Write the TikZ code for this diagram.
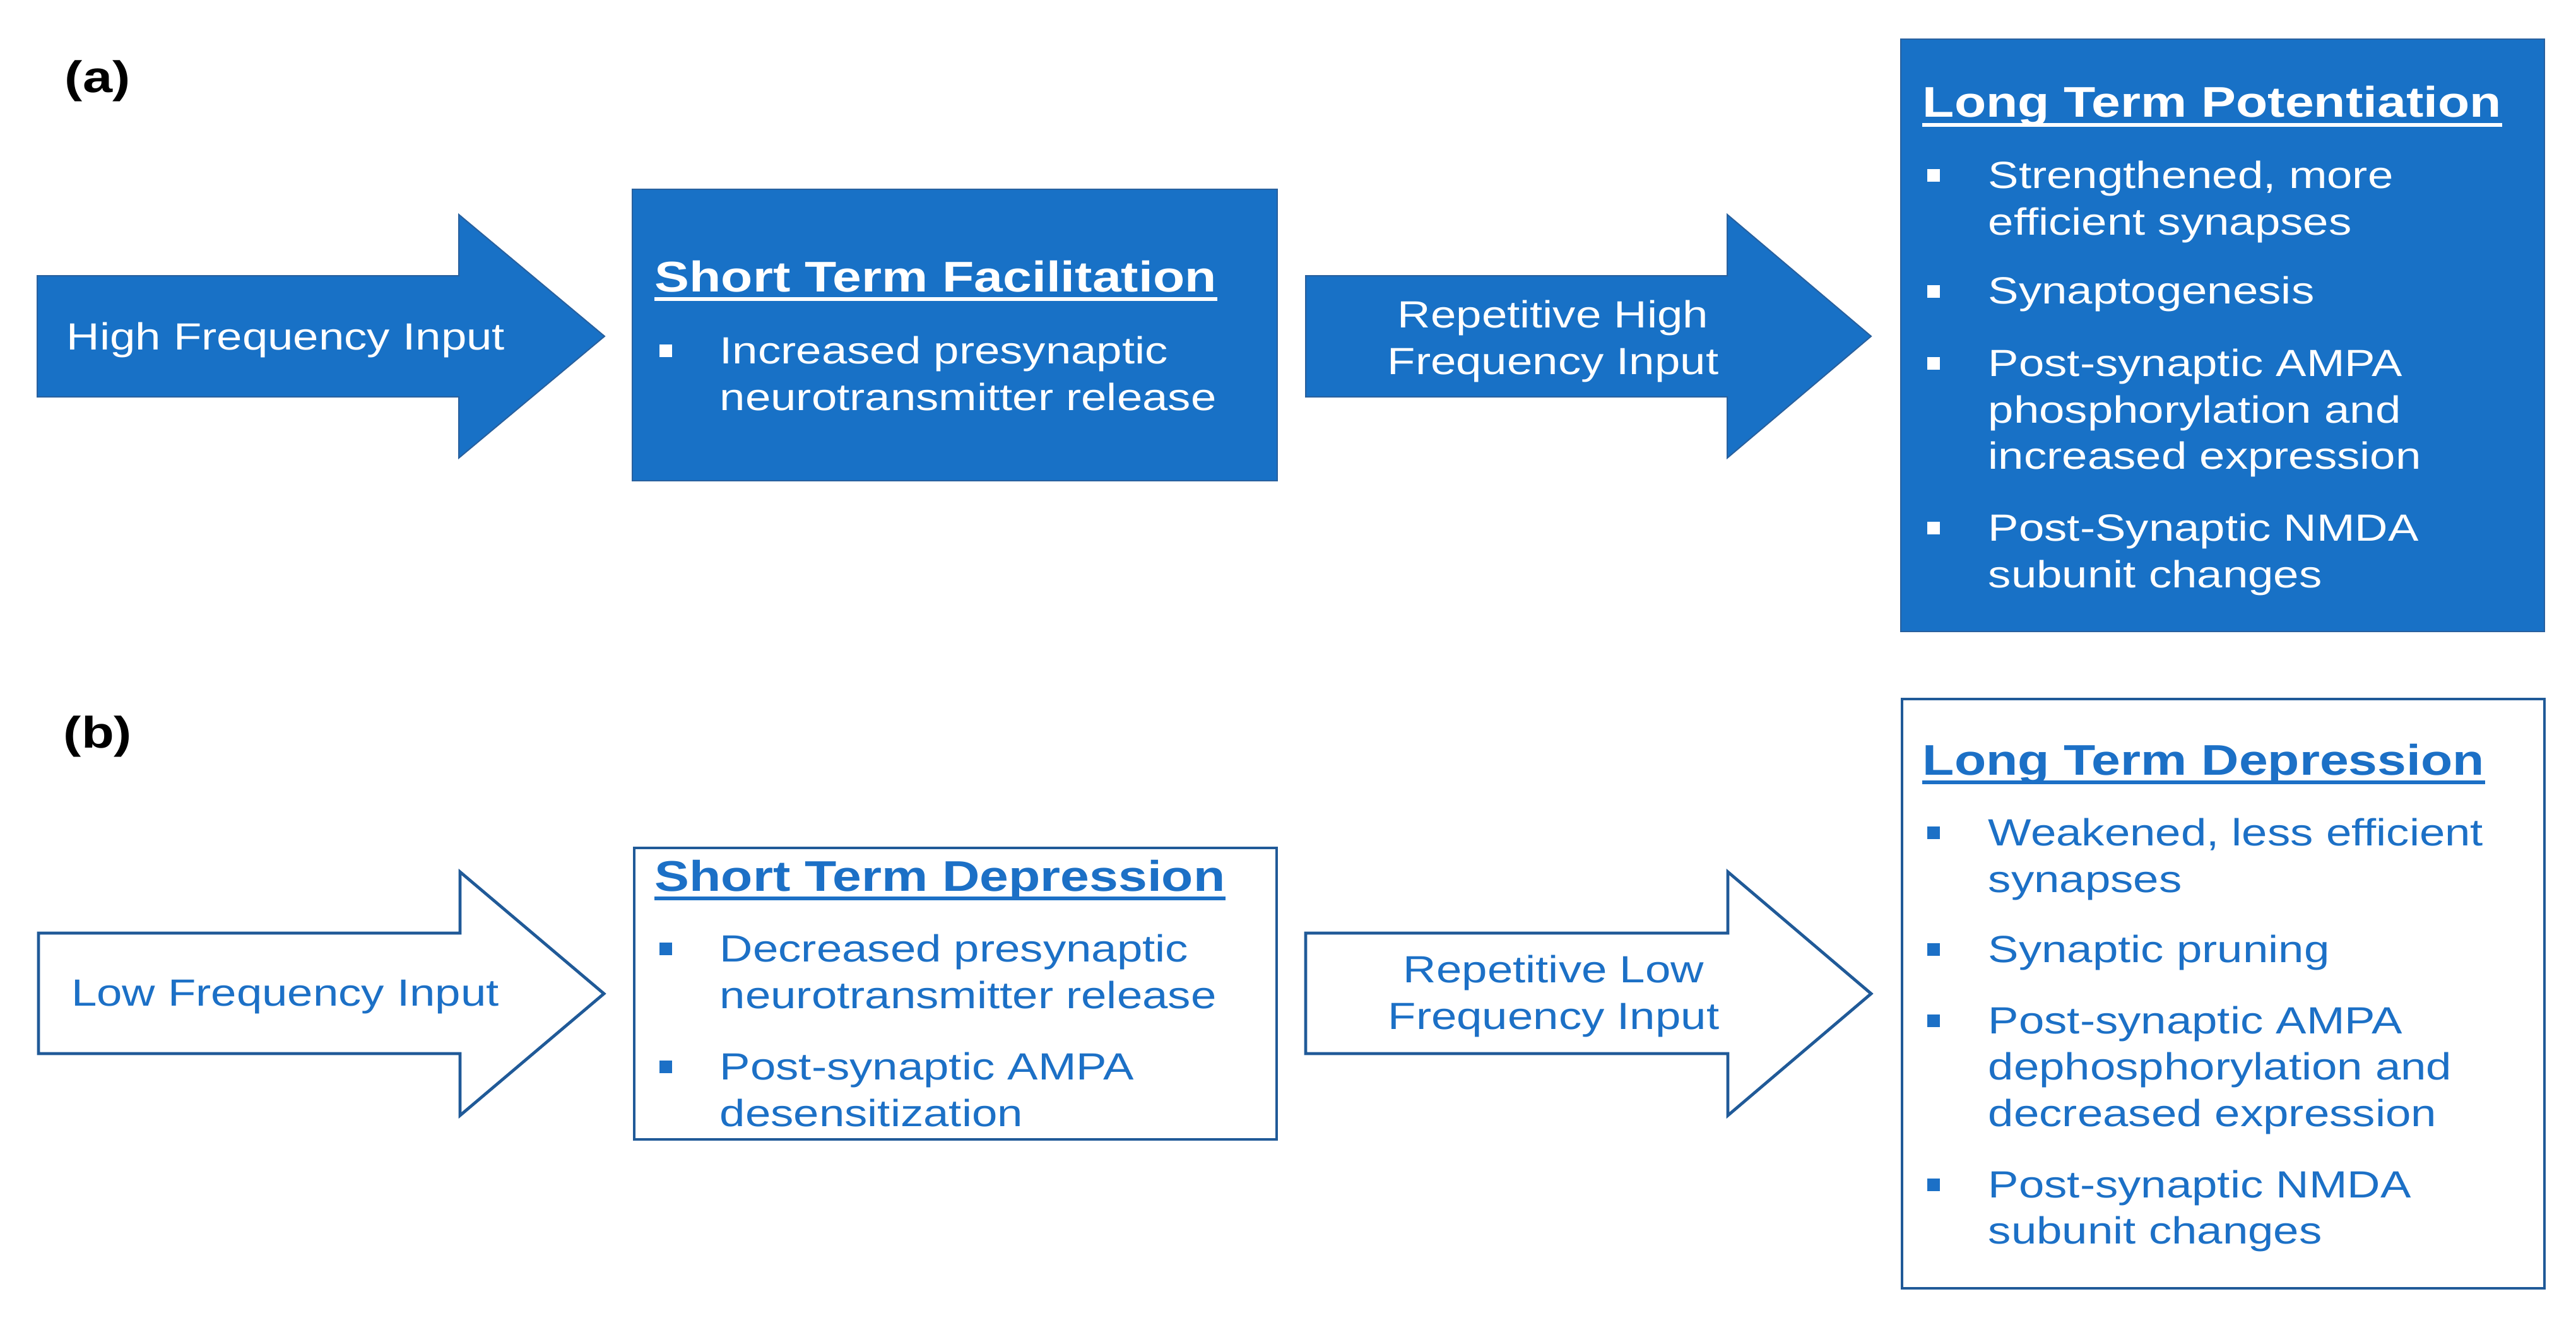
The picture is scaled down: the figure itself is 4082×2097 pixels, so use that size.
\documentclass[tikz,border=0pt]{standalone}
\usepackage{fontspec}
\setmainfont{Liberation Sans}[FakeStretch=1.21]
\definecolor{fillblue}{RGB}{24,113,198}
\definecolor{filledge}{RGB}{40,96,158}
\definecolor{edgeblue}{RGB}{32,90,152}
\definecolor{textblue}{RGB}{28,112,198}
\tikzset{
  filledshape/.style={fill=fillblue, draw=filledge, line width=0.5pt},
  outlineshape/.style={fill=white, draw=edgeblue, line width=1.2pt},
  bodytext/.style={font=\fontsize{15}{18}\selectfont, inner sep=0pt, anchor=base west},
  titletext/.style={font=\fontsize{17}{20}\selectfont\bfseries, inner sep=0pt, anchor=base west},
  arrowtext/.style={font=\fontsize{15}{18}\selectfont, inner sep=0pt, anchor=base},
  paneltag/.style={font=\fontsize{17.5}{20}\selectfont\bfseries, inner sep=0pt, anchor=base west, text=black},
  bulletsq/.style={rectangle, minimum width=5pt, minimum height=5pt, inner sep=0pt, draw=none},
  underl/.style={line width=1.6pt}
}
\begin{document}
\begin{tikzpicture}[x=0.25pt,y=-0.25pt]
\useasboundingbox (0,0) rectangle (4082,2097);

% ---------------- (a) ----------------
\node[paneltag] (taga) at (102,147) {(a)};

\draw[filledshape] (59,437) -- (727,437) -- (727,340) -- (958,533) -- (727,726) -- (727,629) -- (59,629) -- cycle;
\node[arrowtext, text=white] (hfi) at (453,554) {High Frequency Input};

\draw[filledshape] (1002,300) rectangle (2024,762);
\node[titletext, text=white] (stft) at (1037,462) {Short Term Facilitation};
\draw[underl, white] ([yshift=-3pt]stft.base west) -- ([yshift=-3pt]stft.base east);
\node[bulletsq, fill=white] (stfb1) at (1055,556) {};
\node[bodytext, text=white] (stf1) at (1140,576) {Increased presynaptic};
\node[bodytext, text=white] (stf2) at (1140,650) {neurotransmitter release};

\draw[filledshape] (2069,437) -- (2737,437) -- (2737,340) -- (2965,533) -- (2737,726) -- (2737,629) -- (2069,629) -- cycle;
\node[arrowtext, text=white] (rhf1) at (2461,519) {Repetitive High};
\node[arrowtext, text=white] (rhf2) at (2461,593) {Frequency Input};

\draw[filledshape] (3012,62) rectangle (4032,1001);
\node[titletext, text=white] (ltpt) at (3046,186) {Long Term Potentiation};
\draw[underl, white] ([yshift=-3pt]ltpt.base west) -- ([yshift=-3pt]ltpt.base east);
\node[bulletsq, fill=white] (ltpb1) at (3064,278) {};
\node[bodytext, text=white] (ltp1) at (3150,298) {Strengthened, more};
\node[bodytext, text=white] (ltp2) at (3150,372) {efficient synapses};
\node[bulletsq, fill=white] (ltpb2) at (3064,462) {};
\node[bodytext, text=white] (ltp3) at (3150,482) {Synaptogenesis};
\node[bulletsq, fill=white] (ltpb3) at (3064,576) {};
\node[bodytext, text=white] (ltp4) at (3150,596) {Post-synaptic AMPA};
\node[bodytext, text=white] (ltp5) at (3150,670) {phosphorylation and};
\node[bodytext, text=white] (ltp6) at (3150,743) {increased expression};
\node[bulletsq, fill=white] (ltpb4) at (3064,837) {};
\node[bodytext, text=white] (ltp7) at (3150,857) {Post-Synaptic NMDA};
\node[bodytext, text=white] (ltp8) at (3150,931) {subunit changes};

% ---------------- (b) ----------------
\node[paneltag] (tagb) at (100,1185) {(b)};

\draw[outlineshape] (61,1479) -- (729,1479) -- (729,1382) -- (957,1575) -- (729,1768) -- (729,1670) -- (61,1670) -- cycle;
\node[arrowtext, text=textblue] (lfi) at (452,1594) {Low Frequency Input};

\draw[outlineshape] (1005,1344) rectangle (2023,1806);
\node[titletext, text=textblue] (stdt) at (1037,1412) {Short Term Depression};
\draw[underl, textblue] ([yshift=-3pt]stdt.base west) -- ([yshift=-3pt]stdt.base east);
\node[bulletsq, fill=textblue] (stdb1) at (1055,1504) {};
\node[bodytext, text=textblue] (std1) at (1140,1524) {Decreased presynaptic};
\node[bodytext, text=textblue] (std2) at (1140,1598) {neurotransmitter release};
\node[bulletsq, fill=textblue] (stdb2) at (1055,1691) {};
\node[bodytext, text=textblue] (std3) at (1140,1711) {Post-synaptic AMPA};
\node[bodytext, text=textblue] (std4) at (1140,1785) {desensitization};

\draw[outlineshape] (2069,1479) -- (2738,1479) -- (2738,1382) -- (2965,1575) -- (2738,1768) -- (2738,1670) -- (2069,1670) -- cycle;
\node[arrowtext, text=textblue] (rlf1) at (2462,1557) {Repetitive Low};
\node[arrowtext, text=textblue] (rlf2) at (2462,1631) {Frequency Input};

\draw[outlineshape] (3014,1108) rectangle (4032,2042);
\node[titletext, text=textblue] (ltdt) at (3046,1228) {Long Term Depression};
\draw[underl, textblue] ([yshift=-3pt]ltdt.base west) -- ([yshift=-3pt]ltdt.base east);
\node[bulletsq, fill=textblue] (ltdb1) at (3064,1320) {};
\node[bodytext, text=textblue] (ltd1) at (3150,1340) {Weakened, less efficient};
\node[bodytext, text=textblue] (ltd2) at (3150,1414) {synapses};
\node[bulletsq, fill=textblue] (ltdb2) at (3064,1505) {};
\node[bodytext, text=textblue] (ltd3) at (3150,1525) {Synaptic pruning};
\node[bulletsq, fill=textblue] (ltdb3) at (3064,1618) {};
\node[bodytext, text=textblue] (ltd4) at (3150,1638) {Post-synaptic AMPA};
\node[bodytext, text=textblue] (ltd5) at (3150,1711) {dephosphorylation and};
\node[bodytext, text=textblue] (ltd6) at (3150,1785) {decreased expression};
\node[bulletsq, fill=textblue] (ltdb4) at (3064,1878) {};
\node[bodytext, text=textblue] (ltd7) at (3150,1898) {Post-synaptic NMDA};
\node[bodytext, text=textblue] (ltd8) at (3150,1971) {subunit changes};
\end{tikzpicture}
\end{document}
